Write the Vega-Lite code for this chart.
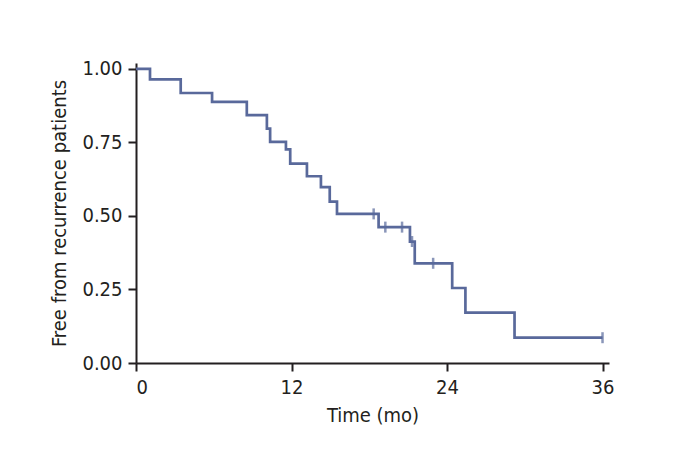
{
  "$schema": "https://vega.github.io/schema/vega-lite/v6.json",
  "autosize": {"type": "none"},
  "padding": {"left": 136, "top": 63, "right": 84, "bottom": 103},
  "width": 473,
  "height": 300,
  "background": "white",
  "config": {
    "view": {"stroke": null},
    "axis": {
      "grid": false,
      "domainColor": "#231f20",
      "domainWidth": 2,
      "tickColor": "#231f20",
      "tickWidth": 2,
      "tickSize": 8,
      "labelFont": "'Liberation Sans Narrow', 'DejaVu Sans Condensed', 'Roboto Condensed', Roboto, sans-serif",
      "labelFontSize": 20,
      "labelColor": "#231f20",
      "titleFont": "'Liberation Sans Narrow', 'DejaVu Sans Condensed', 'Roboto Condensed', Roboto, sans-serif",
      "titleFontSize": 20,
      "titleFontWeight": "normal",
      "titleColor": "#231f20"
    }
  },
  "datasets": {
    "km": [
      {"t": 0, "s": 1.0},
      {"t": 1.08, "s": 0.964},
      {"t": 3.45, "s": 0.918},
      {"t": 5.87, "s": 0.888},
      {"t": 8.55, "s": 0.843},
      {"t": 10.10, "s": 0.797},
      {"t": 10.35, "s": 0.752},
      {"t": 11.57, "s": 0.726},
      {"t": 11.90, "s": 0.678},
      {"t": 13.19, "s": 0.635},
      {"t": 14.27, "s": 0.598},
      {"t": 14.95, "s": 0.549},
      {"t": 15.51, "s": 0.507},
      {"t": 18.72, "s": 0.462},
      {"t": 21.14, "s": 0.413},
      {"t": 21.51, "s": 0.339},
      {"t": 24.40, "s": 0.255},
      {"t": 25.42, "s": 0.171},
      {"t": 29.21, "s": 0.086},
      {"t": 36.0, "s": 0.086}
    ],
    "cens": [
      {"t": 18.34, "s": 0.507},
      {"t": 19.24, "s": 0.462},
      {"t": 20.53, "s": 0.462},
      {"t": 21.3, "s": 0.413},
      {"t": 22.93, "s": 0.339},
      {"t": 36.0, "s": 0.086}
    ]
  },
  "layer": [
    {
      "data": {"name": "km"},
      "mark": {"type": "line", "interpolate": "step-after", "color": "#59699b", "strokeWidth": 2.7},
      "encoding": {
        "x": {
          "field": "t", "type": "quantitative",
          "scale": {"domain": [0, 36.5], "nice": false, "zero": false},
          "axis": {"values": [0, 12, 24, 36], "title": "Time (mo)", "labelPadding": 6, "titlePadding": 8}
        },
        "y": {
          "field": "s", "type": "quantitative",
          "scale": {"domain": [0, 1.02], "nice": false},
          "axis": {"values": [0, 0.25, 0.5, 0.75, 1], "format": ".2f", "title": "Free from recurrence patients", "labelPadding": 6, "titlePadding": 12}
        }
      }
    },
    {
      "data": {"name": "cens"},
      "mark": {"type": "tick", "orient": "vertical", "color": "#59699b", "size": 11, "thickness": 2.5},
      "encoding": {
        "x": {"field": "t", "type": "quantitative"},
        "y": {"field": "s", "type": "quantitative"}
      }
    }
  ]
}
